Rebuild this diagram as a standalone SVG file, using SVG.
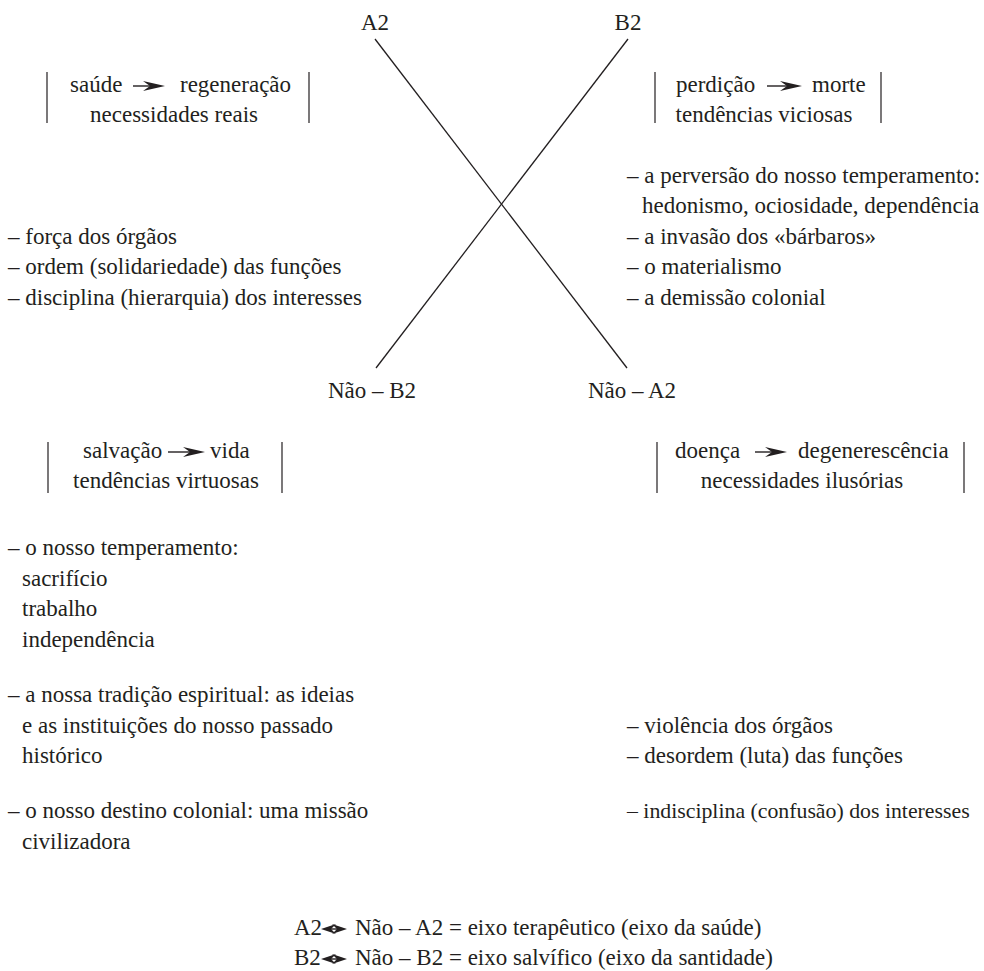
<svg xmlns="http://www.w3.org/2000/svg" width="984" height="971" viewBox="0 0 984 971">
<style>
text{font-family:"Liberation Serif","Times New Roman",serif;font-size:23px;fill:#231f20}
.c{text-anchor:middle}
.bar{stroke:#231f20;stroke-width:1.2}
.ln{stroke:#231f20;stroke-width:1.3;fill:none}
.ar{stroke:#231f20;stroke-width:1.4}
.ah{fill:#231f20}
</style>
<defs>
<path id="head" d="M0,0 L-22,-5 L-15,0 L-22,5 Z"/>
<path id="head2" d="M0,0 L-15,-5 L-10,0 L-15,5 Z"/>
</defs>
<rect width="984" height="971" fill="#fff"/>
<g id="connectors">
<line class="ln" x1="375" y1="39" x2="627" y2="368"/>
<line class="ln" x1="628" y1="39" x2="376" y2="368"/>
</g>
<g id="A2"><text class="c" x="375" y="30">A2</text></g>
<g id="B2"><text class="c" x="628" y="30">B2</text></g>
<g id="NaoB2"><text class="c" x="372" y="398">Não – B2</text></g>
<g id="NaoA2"><text class="c" x="632" y="398">Não – A2</text></g>

<g id="boxA2">
<line class="bar" x1="47" y1="72" x2="47" y2="123"/>
<line class="bar" x1="309" y1="72" x2="309" y2="123"/>
<text x="70" y="92">saúde</text>
<line class="ar" x1="133" y1="86" x2="150" y2="86"/>
<use href="#head" class="ah" x="165" y="86"/>
<text x="180" y="92">regeneração</text>
<text class="c" x="174" y="122">necessidades reais</text>
</g>

<g id="boxB2">
<line class="bar" x1="655" y1="72" x2="655" y2="123"/>
<line class="bar" x1="881" y1="72" x2="881" y2="123"/>
<text x="676" y="92">perdição</text>
<line class="ar" x1="767" y1="86" x2="787" y2="86"/>
<use href="#head" class="ah" x="802" y="86"/>
<text x="812" y="92">morte</text>
<text class="c" x="764" y="122">tendências viciosas</text>
</g>

<g id="listB2">
<text x="627" y="183">– a perversão do nosso temperamento:</text>
<text x="642" y="213">hedonismo, ociosidade, dependência</text>
<text x="627" y="244">– a invasão dos «bárbaros»</text>
<text x="627" y="274">– o materialismo</text>
<text x="627" y="305">– a demissão colonial</text>
</g>

<g id="listA2">
<text x="8" y="244">– força dos órgãos</text>
<text x="8" y="274">– ordem (solidariedade) das funções</text>
<text x="8" y="305">– disciplina (hierarquia) dos interesses</text>
</g>

<g id="boxNaoB2">
<line class="bar" x1="48" y1="442" x2="48" y2="493"/>
<line class="bar" x1="282" y1="442" x2="282" y2="493"/>
<text x="83" y="458">salvação</text>
<line class="ar" x1="168" y1="452" x2="190" y2="452"/>
<use href="#head" class="ah" x="205" y="452"/>
<text x="210" y="458">vida</text>
<text class="c" x="166" y="488">tendências virtuosas</text>
</g>

<g id="boxNaoA2">
<line class="bar" x1="657" y1="442" x2="657" y2="493"/>
<line class="bar" x1="964" y1="442" x2="964" y2="493"/>
<text x="675" y="458">doença</text>
<line class="ar" x1="755" y1="452" x2="772" y2="452"/>
<use href="#head" class="ah" x="787" y="452"/>
<text x="798" y="458">degenerescência</text>
<text class="c" x="802" y="488">necessidades ilusórias</text>
</g>

<g id="listNaoB2">
<text x="8" y="555">– o nosso temperamento:</text>
<text x="22" y="586">sacrifício</text>
<text x="22" y="616">trabalho</text>
<text x="22" y="647">independência</text>
<text x="8" y="702">– a nossa tradição espiritual: as ideias</text>
<text x="22" y="733">e as instituições do nosso passado</text>
<text x="22" y="763">histórico</text>
<text x="8" y="818">– o nosso destino colonial: uma missão</text>
<text x="22" y="849">civilizadora</text>
</g>

<g id="listNaoA2">
<text x="627" y="733">– violência dos órgãos</text>
<text x="627" y="763">– desordem (luta) das funções</text>
<text x="627" y="818" style="font-size:21.8px">– indisciplina (confusão) dos interesses</text>
</g>

<g id="legend">
<text x="294" y="935">A2</text>
<line class="ar" x1="328" y1="929" x2="340" y2="929"/>
<use href="#head2" class="ah" x="347" y="929"/>
<use href="#head2" class="ah" transform="translate(321,929) rotate(180)"/>
<text x="355" y="935">Não – A2 = eixo terapêutico (eixo da saúde)</text>
<text x="294" y="965">B2</text>
<line class="ar" x1="328" y1="959" x2="340" y2="959"/>
<use href="#head2" class="ah" x="347" y="959"/>
<use href="#head2" class="ah" transform="translate(321,959) rotate(180)"/>
<text x="355" y="965">Não – B2 = eixo salvífico (eixo da santidade)</text>
</g>
</svg>
